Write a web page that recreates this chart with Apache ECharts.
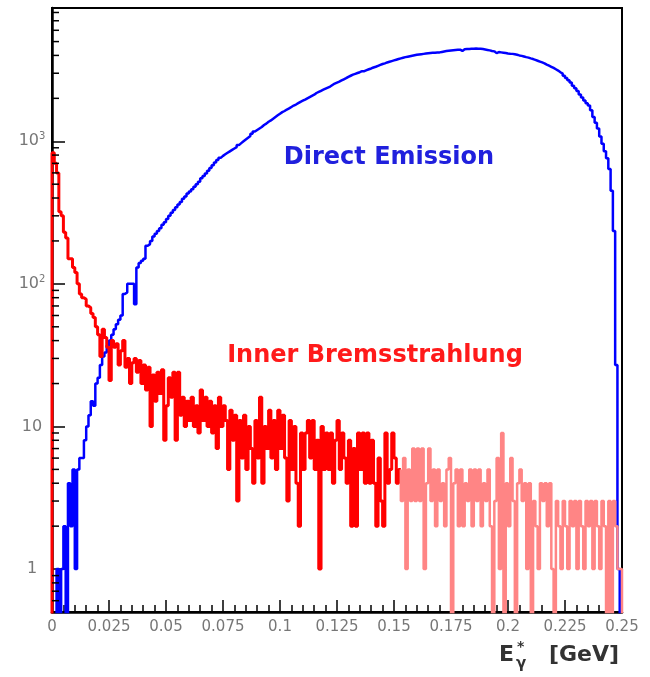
<!DOCTYPE html>
<html>
<head>
<meta charset="utf-8">
<script src="https://cdn.jsdelivr.net/npm/echarts@6/dist/echarts.min.js"></script>
<style>
html, body { margin: 0; padding: 0; background: #fff; }
#chart { width: 650px; height: 677px; }
</style>
</head>
<body>
<div id="chart"></div>
<script>
// histogram binning: 250 bins of 1 MeV from 0 to 0.25 GeV
var binWidth = 0.001;
var nBins = 250;

// Direct Emission counts per bin
var directEmission = [
  0, 0, 1, 0, 1, 2, 0, 4, 2, 5,
  1, 5, 6, 6, 8, 10, 12, 15, 14, 20,
  22, 27, 31, 33, 37, 40, 44, 48, 52, 56,
  60, 85, 87, 100, 100, 100, 72, 130, 140, 145,
  150, 185, 190, 200, 215, 225, 235, 245, 260, 270,
  285, 300, 315, 330, 345, 360, 375, 395, 410, 430,
  445, 460, 480, 500, 520, 550, 570, 595, 620, 650,
  680, 710, 740, 765, 790, 810, 830, 850, 870, 890,
  910, 940, 970, 1000, 1030, 1060, 1090, 1130, 1170, 1200,
  1230, 1260, 1300, 1330, 1370, 1400, 1440, 1480, 1520, 1560,
  1600, 1630, 1670, 1700, 1740, 1780, 1810, 1850, 1890, 1925,
  1960, 2000, 2040, 2080, 2120, 2180, 2220, 2260, 2300, 2340,
  2380, 2420, 2480, 2540, 2580, 2620, 2670, 2720, 2770, 2830,
  2880, 2930, 2970, 3010, 3050, 3100, 3100, 3150, 3200, 3240,
  3290, 3330, 3380, 3430, 3480, 3520, 3570, 3610, 3650, 3690,
  3730, 3770, 3810, 3850, 3890, 3920, 3950, 3980, 4010, 4040,
  4060, 4080, 4100, 4120, 4140, 4160, 4170, 4180, 4190, 4200,
  4230, 4260, 4290, 4310, 4330, 4350, 4370, 4380, 4390, 4300,
  4420, 4430, 4440, 4450, 4460, 4470, 4460, 4450, 4430, 4400,
  4370, 4340, 4300, 4270, 4150, 4220, 4200, 4180, 4160, 4130,
  4110, 4100, 4070, 4040, 4000, 3970, 3930, 3890, 3860, 3810,
  3770, 3720, 3670, 3620, 3570, 3520, 3450, 3390, 3330, 3270,
  3200, 3130, 3050, 2980, 2880, 2780, 2680, 2580, 2450, 2350,
  2250, 2130, 2030, 1930, 1850, 1780, 1650, 1480, 1350, 1230,
  1080, 960, 850, 760, 640, 450, 235, 27, 1, 0
];

// Inner Bremsstrahlung counts per bin
var innerBrems = [
  830, 700, 600, 320, 300, 230, 210, 150, 150, 130,
  120, 100, 85, 80, 78, 70, 68, 62, 58, 50,
  44, 31, 48, 42, 36, 21, 40, 36, 38, 27,
  34, 40, 26, 30, 20, 28, 30, 24, 29, 20,
  27, 18, 26, 10, 23, 15, 24, 17, 25, 8,
  14, 22, 16, 24, 8, 24, 12, 16, 10, 15,
  11, 16, 10, 14, 9, 18, 11, 16, 10, 15,
  9, 14, 7, 16, 10, 14, 11, 5, 13, 8,
  12, 3, 11, 6, 12, 5, 10, 7, 4, 11,
  6, 16, 4, 10, 7, 13, 6, 11, 5, 13,
  7, 12, 6, 3, 11, 5, 10, 4, 2, 9,
  5, 9, 11, 6, 11, 5, 8, 1, 10, 5,
  9, 5, 9, 4, 8, 11, 5, 9, 6, 4,
  8, 2, 7, 2, 9, 5, 9, 4, 9, 4,
  8, 4, 2, 6, 3, 2, 9, 4, 5, 9,
  6, 4, 5, 3, 6, 1, 5, 3, 7, 3,
  7, 3, 7, 1, 4, 7, 3, 5, 2, 5,
  3, 4, 2, 5, 6, 0, 4, 5, 2, 5,
  2, 4, 3, 5, 2, 5, 3, 5, 2, 4,
  3, 5, 2, 0, 3, 6, 1, 9, 0, 4,
  2, 6, 3, 0, 4, 5, 3, 4, 1, 4,
  0, 3, 2, 1, 4, 3, 4, 2, 4, 1,
  0, 3, 2, 1, 3, 2, 1, 3, 2, 3,
  1, 3, 2, 1, 3, 2, 3, 1, 3, 2,
  1, 3, 2, 0, 3, 0, 3, 2, 1, 1
];

// bin where the IB histogram turns sparse (drawn lighter)
var sparseFrom = 153;

var xTicks = [0, 0.025, 0.05, 0.075, 0.1, 0.125, 0.15, 0.175, 0.2, 0.225, 0.25];
var yMinorTicks = [0.6, 0.7, 0.8, 0.9,
  2, 3, 4, 5, 6, 7, 8, 9,
  20, 30, 40, 50, 60, 70, 80, 90,
  200, 300, 400, 500, 600, 700, 800, 900,
  2000, 3000, 4000, 5000, 6000, 7000, 8000];

var yMin = 0.5, yMax = 8600;
// empty bins are drawn down through the bottom of the frame, like ROOT does
var floorValue = 0.3;

function cnt(v) {
    return v > 0 ? v : floorValue;
}

// step points for bins [from, to); opens and closes at the floor when asked
function histPoints(counts, from, to, openLow, closeLow) {
    var pts = [];
    if (openLow) pts.push([from * binWidth, floorValue]);
    else if (from > 0) pts.push([from * binWidth, cnt(counts[from - 1])]);
    for (var i = from; i < to; i++) {
        pts.push([+(i * binWidth).toFixed(4), cnt(counts[i])]);
    }
    pts.push([+(to * binWidth).toFixed(4), cnt(counts[to - 1])]);
    if (closeLow) pts.push([+(to * binWidth).toFixed(4), floorValue]);
    return pts;
}

function yLabel(value) {
    var e = Math.round(Math.log10(value));
    if (Math.abs(Math.log10(value) - e) > 1e-6) return '';
    if (e === 0) return '1';
    if (e === 1) return '10';
    return '10{s|' + e + '}';
}

var myChart = echarts.init(document.getElementById('chart'));

var option = {
    animation: false,
    backgroundColor: '#fff',
    grid: {
        left: 52, right: 28, top: 8, bottom: 65,
        show: true, borderColor: '#000', borderWidth: 2
    },
    xAxis: {
        type: 'value',
        min: xTicks[0],
        max: xTicks[xTicks.length - 1],
        interval: 0.025,
        axisLine: { show: true, lineStyle: { color: '#000', width: 2.5 } },
        axisTick: { inside: true, length: 12, lineStyle: { color: '#000', width: 1.5 } },
        minorTick: { show: true, splitNumber: 5, length: 7, lineStyle: { color: '#000', width: 1.5 } },
        splitLine: { show: false },
        axisLabel: {
            color: '#777',
            fontFamily: 'DejaVu Sans',
            fontSize: 15,
            margin: 8,
            formatter: function (v) { return String(+v.toFixed(3)); }
        }
    },
    yAxis: {
        type: 'log',
        logBase: 10,
        min: yMin,
        max: yMax,
        axisLine: { show: true, lineStyle: { color: '#000', width: 2.5 } },
        axisTick: { inside: true, length: 13, lineStyle: { color: '#000', width: 1.5 } },
        splitLine: { show: false },
        axisLabel: {
            color: '#777',
            fontFamily: 'DejaVu Sans',
            fontSize: 16,
            align: 'center',
            margin: 20,
            formatter: yLabel,
            rich: {
                s: { fontSize: 10, color: '#777', fontFamily: 'DejaVu Sans', padding: [0, 0, 9, 0] }
            }
        }
    },
    series: [
        {
            name: 'Direct Emission',
            type: 'line',
            step: 'end',
            showSymbol: false,
            data: histPoints(directEmission, 0, nBins, true, true),
            lineStyle: { color: '#0000ff', width: 2.5 },
            z: 2
        },
        {
            name: 'Inner Bremsstrahlung',
            type: 'line',
            step: 'end',
            showSymbol: false,
            data: histPoints(innerBrems, 0, sparseFrom, true, false),
            lineStyle: { color: '#ff0000', width: 3 },
            z: 3
        },
        {
            name: 'Inner Bremsstrahlung (tail)',
            type: 'line',
            step: 'end',
            showSymbol: false,
            data: histPoints(innerBrems, sparseFrom, nBins, false, true),
            lineStyle: { color: '#ff8585', width: 2.5 },
            z: 3
        },
        {
            // minor log ticks on the y axis (2..9 in each decade)
            type: 'custom',
            silent: true,
            data: yMinorTicks.map(function (v) { return [xTicks[0], v]; }),
            renderItem: function (params, api) {
                var p = api.coord([api.value(0), api.value(1)]);
                return {
                    type: 'line',
                    shape: { x1: p[0], y1: p[1], x2: p[0] + 7, y2: p[1] },
                    style: { stroke: '#000', lineWidth: 1.5 }
                };
            },
            z: 5
        }
    ],
    graphic: [
        {
            type: 'text', x: 389, y: 158,
            style: {
                text: 'Direct Emission', fill: '#2020dd',
                font: 'bold 24px "DejaVu Sans"',
                textAlign: 'center', textVerticalAlign: 'middle'
            }
        },
        {
            type: 'text', x: 375, y: 356,
            style: {
                text: 'Inner Bremsstrahlung', fill: '#ff1a1a',
                font: 'bold 24px "DejaVu Sans"',
                textAlign: 'center', textVerticalAlign: 'middle'
            }
        },
        // axis title E*_gamma [GeV]
        {
            type: 'text', x: 499, y: 655,
            style: { text: 'E', fill: '#333', font: 'bold 22px "DejaVu Sans"', textVerticalAlign: 'middle' }
        },
        {
            type: 'text', x: 517, y: 647,
            style: { text: '*', fill: '#333', font: 'bold 14px "DejaVu Sans"', textVerticalAlign: 'middle' }
        },
        {
            type: 'text', x: 516, y: 664,
            style: { text: 'γ', fill: '#333', font: 'bold 15px "DejaVu Sans"', textVerticalAlign: 'middle' }
        },
        {
            type: 'text', x: 549, y: 655,
            style: { text: '[GeV]', fill: '#333', font: 'bold 22px "DejaVu Sans"', textVerticalAlign: 'middle' }
        }
    ]
};

myChart.setOption(option);
</script>
</body>
</html>
